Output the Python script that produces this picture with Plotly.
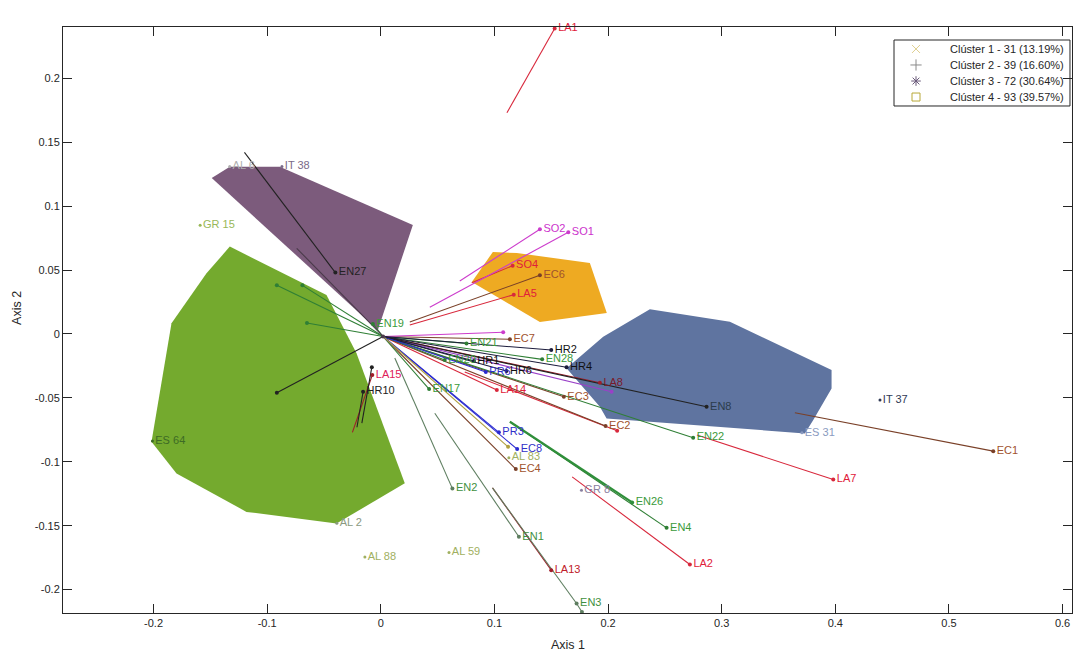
import plotly.graph_objects as go

# ---------------- data ----------------
x_ticks = [-0.2, -0.1, 0, 0.1, 0.2, 0.3, 0.4, 0.5, 0.6]
x_tick_text = ["-0.2", "-0.1", "0", "0.1", "0.2", "0.3", "0.4", "0.5", "0.6"]
y_ticks = [-0.2, -0.15, -0.1, -0.05, 0, 0.05, 0.1, 0.15, 0.2]
y_tick_text = ["-0.2", "-0.15", "-0.1", "-0.05", "0", "0.05", "0.1", "0.15", "0.2"]

legend_names = ["Clúster 1 - 31 (13.19%)", "Clúster 2 - 39 (16.60%)",
                "Clúster 3 - 72 (30.64%)", "Clúster 4 - 93 (39.57%)"]

# cluster hulls
hull_green_x = [-0.1329, -0.1534, -0.1842, -0.2018, -0.1798, -0.1182, -0.0390, 0.0211, -0.0214, -0.0478]
hull_green_y = [0.0683, 0.0474, 0.0083, -0.0844, -0.1091, -0.1392, -0.1483, -0.1169, -0.0152, 0.0305]
hull_purple_x = [-0.1488, -0.1329, -0.0889, -0.0563, -0.0158, 0.0282, -0.0026]
hull_purple_y = [0.1220, 0.1307, 0.1307, 0.1181, 0.1025, 0.0852, 0.0031]
hull_orange_x = [0.0801, 0.0986, 0.1197, 0.1840, 0.1989, 0.1400]
hull_orange_y = [0.0406, 0.0641, 0.0633, 0.0555, 0.0163, 0.0093]
hull_blue_x = [0.1635, 0.1957, 0.2368, 0.3072, 0.3967, 0.3967, 0.3806, 0.3732, 0.1987, 0.1928]
hull_blue_y = [-0.0269, -0.0022, 0.0193, 0.0096, -0.0283, -0.0426, -0.0674, -0.0778, -0.0661, -0.0570]

# variable segments (start -> labelled end)
seg_names = ["LA1", "EN27", "SO2", "SO1", "SO4", "EC6", "LA5", "EC7", "HR2", "EN28",
             "HR4", "LA8", "EN8", "EC3", "LA14", "EC2", "EN22", "LA7", "EC1", "HR1",
             "PR6", "HR6", "EN21", "EN20", "EN17", "PR3", "EC8", "EC4", "EN2", "EN1",
             "LA13", "EN3", "EN26", "EN4", "LA2", "LA15", "HR10", "EN19",
             "", "", "", "", "", "", "", "", "", "", ""]
seg_kind = ["LA", "K", "SO", "SO", "LA", "EC", "LA", "EC", "HR", "EN",
            "HR", "LAd", "K", "EC", "LA", "EC", "EN", "LA", "EC", "HR",
            "PR", "HR", "EN", "EN", "EN", "PR", "PR", "EC", "ENg", "ENg",
            "LAd", "ENg", "ENw", "EN", "LA", "LAd", "K", "EN",
            "P", "EN", "EN", "EN", "K", "SO", "SOp", "LA", "OL", "K", "ENg"]
seg_x0 = [0.111, -0.120, 0.0695, 0.0431, 0.080, 0.0255, 0.0255, 0.002, 0.002, 0.002,
          0.002, 0.002, 0.002, 0.002, 0.002, 0.002, 0.002, 0.2782, 0.3644, 0.002,
          0.002, 0.002, 0.002, 0.002, 0.002, 0.002, 0.002, 0.002, 0.0123, 0.0475,
          0.0983, 0.0983, 0.1136, 0.1136, 0.1684, -0.025, -0.021, 0.002,
          -0.074, 0.002, 0.002, 0.002, 0.002, 0.002, 0.002, 0.0739, 0.002, -0.0167, 0.1723]
seg_y0 = [0.173, 0.142, 0.0414, 0.0208, 0.040, 0.0093, 0.0070, -0.002, -0.002, -0.002,
          -0.002, -0.002, -0.002, -0.002, -0.002, -0.002, -0.002, -0.0791, -0.0617, -0.002,
          -0.002, -0.002, -0.002, -0.002, -0.002, -0.002, -0.002, -0.002, -0.0188, -0.062,
          -0.1204, -0.1204, -0.0687, -0.0687, -0.1118, -0.077, -0.073, -0.002,
          0.067, -0.002, -0.002, -0.002, -0.002, -0.002, -0.002, -0.0298, -0.002, -0.0698, -0.2109]
seg_x1 = [0.153, -0.040, 0.140, 0.165, 0.116, 0.140, 0.117, 0.1136, 0.150, 0.142,
          0.1635, 0.1928, 0.2867, 0.1611, 0.1021, 0.1978, 0.2749, 0.3982, 0.539, 0.0819,
          0.0924, 0.1106, 0.0754, 0.0563, 0.0425, 0.1039, 0.120, 0.1188, 0.063, 0.1215,
          0.150, 0.1723, 0.2212, 0.2515, 0.272, -0.0075, -0.0156, -0.007,
          0.002, -0.0915, -0.069, -0.065, -0.0915, 0.1077, 0.2031, 0.208, 0.112, -0.0079, 0.177]
seg_y1 = [0.239, 0.048, 0.0819, 0.0795, 0.0534, 0.0459, 0.0307, -0.0042, -0.0126, -0.0199,
          -0.0261, -0.0382, -0.057, -0.0492, -0.0439, -0.0721, -0.0812, -0.1138, -0.0917, -0.0212,
          -0.0298, -0.029, -0.0074, -0.0204, -0.0431, -0.077, -0.0901, -0.1057, -0.121, -0.1587,
          -0.1848, -0.2109, -0.1318, -0.1517, -0.1804, -0.0322, -0.0452, 0.0078,
          -0.002, 0.038, 0.038, 0.0085, -0.046, 0.0013, -0.0452, -0.0758, -0.0883, -0.026, -0.2175]

# country / cluster points
pt_names = ["IT 38", "AL 6", "GR 15", "ES 64", "AL 2", "AL 88", "AL 59", "AL 83", "GR 8", "IT 37", "ES 31"]
pt_x = [-0.087, -0.133, -0.159, -0.201, -0.0387, -0.014, 0.060, 0.1127, 0.1766, 0.4393, 0.3706]
pt_y = [0.131, 0.131, 0.085, -0.0838, -0.148, -0.1744, -0.171, -0.0968, -0.1222, -0.0517, -0.0773]

# ---------------- styles ----------------
line_color = {"LA": "#d8283c", "LAd": "#a01e2a", "EC": "#7a4028", "EN": "#2f7f35",
              "ENw": "#2f8f3a", "ENg": "#5e7e60", "SO": "#cc3ccc", "SOp": "#9a40c8",
              "HR": "#1c1c3c", "PR": "#2a2ad0", "K": "#222222", "P": "#4a3a4a", "OL": "#b0a040"}
line_width = {"ENw": 2.2}
label_color = {"LA": "#e0203a", "LAd": "#c0202a", "EC": "#a0522d", "EN": "#3a9a3a",
               "ENw": "#3a9a3a", "ENg": "#3f9040", "SO": "#cc33cc", "SOp": "#9a40c8",
               "HR": "#111111", "PR": "#3030c8", "K": "#222222", "P": "#4a3a4a", "OL": "#a0a040"}
label_override = {"EN8": "#2b3c4c", "LA8": "#7a1a2a", "LA15": "#e0205a"}
pt_color = {"IT 38": "#7a6a88", "AL 6": "#b0b0b0", "GR 15": "#98b858", "ES 64": "#3d6b25",
            "AL 2": "#8a9a80", "AL 88": "#a0b060", "AL 59": "#a0b060", "AL 83": "#a0b060",
            "GR 8": "#8a80a0", "IT 37": "#303a55", "ES 31": "#8a9ac0"}
FONT = "Liberation Sans, Arial, sans-serif"
TXT = "#262626"

fig = go.Figure()

def add_hull(xs, ys, color):
    fig.add_trace(go.Scatter(x=xs + xs[:1], y=ys + ys[:1], mode="lines", fill="toself",
                             fillcolor=color, line=dict(width=0, color=color),
                             hoverinfo="skip", showlegend=False))

add_hull(hull_green_x, hull_green_y, "#74aa2e")
add_hull(hull_purple_x, hull_purple_y, "#7c5b7c")
add_hull(hull_orange_x, hull_orange_y, "#eeaa22")
add_hull(hull_blue_x, hull_blue_y, "#5f74a0")

# segments grouped by kind
for kind in line_color:
    xs, ys = [], []
    for i, k in enumerate(seg_kind):
        if k == kind:
            xs += [seg_x0[i], seg_x1[i], None]
            ys += [seg_y0[i], seg_y1[i], None]
    if xs:
        fig.add_trace(go.Scatter(x=xs, y=ys, mode="lines",
                                 line=dict(color=line_color[kind], width=line_width.get(kind, 1.1)),
                                 hoverinfo="skip", showlegend=False))

# segment end markers + labels
mcols = [line_color[k] for k in seg_kind]
tcols = [label_override.get(n, label_color[k]) for n, k in zip(seg_names, seg_kind)]
fig.add_trace(go.Scatter(x=seg_x1, y=seg_y1, mode="markers+text", text=seg_names,
                         textposition="middle right",
                         textfont=dict(family=FONT, size=11, color=tcols),
                         marker=dict(size=4, color=mcols),
                         cliponaxis=False, hoverinfo="skip", showlegend=False))

# country points
fig.add_trace(go.Scatter(x=pt_x, y=pt_y, mode="markers+text", text=pt_names,
                         textposition="middle right",
                         textfont=dict(family=FONT, size=11, color=[pt_color[n] for n in pt_names]),
                         marker=dict(size=3, color=[pt_color[n] for n in pt_names]),
                         hoverinfo="skip", showlegend=False))

# ---- legend (drawn as a boxed key in paper space) ----
leg_symbols = ["x-thin-open", "cross-thin-open", "asterisk-open", "square-open"]
leg_colors = ["#e0d090", "#8a8a8a", "#6a5a7a", "#b8a838"]
leg_rows = [0.9625, 0.9352, 0.9078, 0.8805]
fig.add_trace(go.Scatter(x=[0.8454] * 4, y=leg_rows, mode="markers", xaxis="x2", yaxis="y2",
                         marker=dict(symbol=leg_symbols, size=8, color=leg_colors,
                                     line=dict(color=leg_colors, width=1)),
                         hoverinfo="skip", showlegend=False))
annotations = [
    dict(text="Axis 1", x=0.5, y=-0.055, xref="paper", yref="paper", showarrow=False,
         xanchor="center", yanchor="middle", font=dict(family=FONT, size=12.5, color=TXT)),
    dict(text="Axis 2", x=-0.045, y=0.52, xref="paper", yref="paper", showarrow=False,
         textangle=-90, xanchor="center", yanchor="middle", font=dict(family=FONT, size=12.5, color=TXT)),
]
for name, ry in zip(legend_names, leg_rows):
    annotations.append(dict(text=name, x=0.8775, y=ry, xref="paper", yref="paper", showarrow=False,
                            xanchor="left", yanchor="middle", font=dict(family=FONT, size=11, color=TXT)))

axis_common = dict(ticks="inside", ticklen=9, tickwidth=1, tickcolor=TXT,
                   showline=True, linecolor=TXT, linewidth=1, mirror="allticks",
                   showgrid=False, zeroline=False,
                   tickfont=dict(family=FONT, size=11, color=TXT))

fig.update_layout(
    width=1076, height=651,
    margin=dict(l=63, r=4, t=27, b=38, pad=0),
    paper_bgcolor="white", plot_bgcolor="white",
    xaxis=dict(range=[-0.2797, 0.6083], tickvals=x_ticks, ticktext=x_tick_text, **axis_common),
    yaxis=dict(range=[-0.2183, 0.2401], tickvals=y_ticks, ticktext=y_tick_text, **axis_common),
    xaxis2=dict(overlaying="x", range=[0, 1], visible=False, fixedrange=True),
    yaxis2=dict(overlaying="y", range=[0, 1], visible=False, fixedrange=True),
    shapes=[dict(type="rect", xref="paper", yref="paper", x0=0.8236, x1=0.998, y0=0.8652, y1=0.9778,
                 line=dict(color=TXT, width=1), fillcolor="white", layer="below")],
    annotations=annotations,
    showlegend=False,
)

fig.write_html("out.html", config={"displayModeBar": False},
               post_script="document.body.style.margin='0px';")
